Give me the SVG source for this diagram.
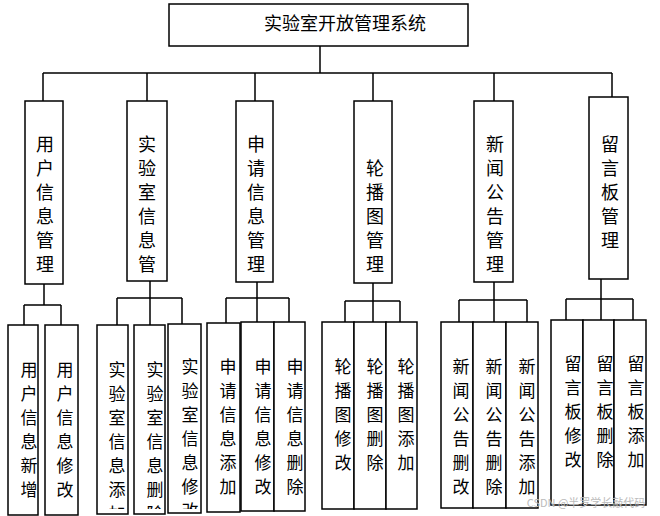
<svg xmlns="http://www.w3.org/2000/svg" width="660" height="516" viewBox="0 0 660 516">
<style>
rect{fill:#fff;stroke:#000;stroke-width:1.5}
line,path{stroke:#000;stroke-width:1.5;fill:none}
text{font-family:"Noto Sans CJK SC",sans-serif;font-size:17px;fill:#000;text-anchor:middle;dominant-baseline:central}
.l2{font-size:18px}
.wm{font-size:11px;fill:#bbb}
</style>
<defs>
<clipPath id="c2"><rect x="90" y="325" width="120" height="184"/></clipPath>
</defs>
<rect width="660" height="516" style="stroke:none"/>
<g id="connectors">
<path d="M320 46V73M43 73H612M43 73V101M147 73V101M255 73V101M373 73V101M494 73V101M612 73V97"/>
<path d="M44 284V305M24 305H61M24 305V325M61 305V325"/>
<path d="M150 281V298M117 298H182M117 298V325M150 298V325M182 298V324"/>
<path d="M257 282V298M226 298H289M226 298V323M257 298V322M289 298V322"/>
<path d="M373 283V301M345 301H400M345 301V322M373 301V322M400 301V322"/>
<path d="M494 282V300M459 300H527M459 300V322M494 300V322M527 300V322"/>
<path d="M601 279V299M566 299H633M566 299V320M601 299V320M633 299V320"/>
</g>
<g id="root"><rect x="169" y="4" width="299" height="42"/><text x="345" y="22" style="font-size:18px">实验室开放管理系统</text></g>
<g id="n1"><rect x="25" y="101" width="38" height="183"/><text class="l2" x="45" y="143"><tspan x="45">用</tspan><tspan x="45" dy="24">户</tspan><tspan x="45" dy="24">信</tspan><tspan x="45" dy="24">息</tspan><tspan x="45" dy="24">管</tspan><tspan x="45" dy="24">理</tspan></text></g>
<g id="n2"><rect x="127" y="101" width="40" height="180"/><text class="l2" x="147" y="143"><tspan x="147">实</tspan><tspan x="147" dy="24">验</tspan><tspan x="147" dy="24">室</tspan><tspan x="147" dy="24">信</tspan><tspan x="147" dy="24">息</tspan><tspan x="147" dy="24">管</tspan></text></g>
<g id="n3"><rect x="236" y="101" width="37" height="181"/><text class="l2" x="256" y="143"><tspan x="256">申</tspan><tspan x="256" dy="24">请</tspan><tspan x="256" dy="24">信</tspan><tspan x="256" dy="24">息</tspan><tspan x="256" dy="24">管</tspan><tspan x="256" dy="24">理</tspan></text></g>
<g id="n4"><rect x="354" y="101" width="38" height="182"/><text class="l2" x="375" y="167"><tspan x="375">轮</tspan><tspan x="375" dy="24">播</tspan><tspan x="375" dy="24">图</tspan><tspan x="375" dy="24">管</tspan><tspan x="375" dy="24">理</tspan></text></g>
<g id="n5"><rect x="474" y="101" width="39" height="181"/><text class="l2" x="495" y="143"><tspan x="495">新</tspan><tspan x="495" dy="24">闻</tspan><tspan x="495" dy="24">公</tspan><tspan x="495" dy="24">告</tspan><tspan x="495" dy="24">管</tspan><tspan x="495" dy="24">理</tspan></text></g>
<g id="n6"><rect x="589" y="97" width="39" height="182"/><text class="l2" x="610" y="143"><tspan x="610">留</tspan><tspan x="610" dy="24">言</tspan><tspan x="610" dy="24">板</tspan><tspan x="610" dy="24">管</tspan><tspan x="610" dy="24">理</tspan></text></g>

<g id="n1a"><rect x="8" y="325" width="30" height="190"/><text x="29" y="368"><tspan x="29">用</tspan><tspan x="29" dy="24">户</tspan><tspan x="29" dy="24">信</tspan><tspan x="29" dy="24">息</tspan><tspan x="29" dy="24">新</tspan><tspan x="29" dy="24">增</tspan></text></g>
<g id="n1b"><rect x="45" y="325" width="33" height="190"/><text x="65" y="368"><tspan x="65">用</tspan><tspan x="65" dy="24">户</tspan><tspan x="65" dy="24">信</tspan><tspan x="65" dy="24">息</tspan><tspan x="65" dy="24">修</tspan><tspan x="65" dy="24">改</tspan></text></g>

<g id="n2a"><rect x="97" y="325" width="31" height="189"/><text clip-path="url(#c2)" x="117" y="368"><tspan x="117">实</tspan><tspan x="117" dy="24">验</tspan><tspan x="117" dy="24">室</tspan><tspan x="117" dy="24">信</tspan><tspan x="117" dy="24">息</tspan><tspan x="117" dy="24">添</tspan><tspan x="117" dy="24">加</tspan></text></g>
<g id="n2b"><rect x="134" y="325" width="31" height="189"/><text clip-path="url(#c2)" x="155" y="368"><tspan x="155">实</tspan><tspan x="155" dy="24">验</tspan><tspan x="155" dy="24">室</tspan><tspan x="155" dy="24">信</tspan><tspan x="155" dy="24">息</tspan><tspan x="155" dy="24">删</tspan><tspan x="155" dy="24">除</tspan></text></g>
<g id="n2c"><rect x="168" y="324" width="33" height="189"/><text clip-path="url(#c2)" x="190" y="365"><tspan x="190">实</tspan><tspan x="190" dy="24">验</tspan><tspan x="190" dy="24">室</tspan><tspan x="190" dy="24">信</tspan><tspan x="190" dy="24">息</tspan><tspan x="190" dy="24">修</tspan><tspan x="190" dy="24">改</tspan></text></g>

<g id="n3a"><rect x="207" y="323" width="33" height="189"/><text x="228" y="365"><tspan x="228">申</tspan><tspan x="228" dy="24">请</tspan><tspan x="228" dy="24">信</tspan><tspan x="228" dy="24">息</tspan><tspan x="228" dy="24">添</tspan><tspan x="228" dy="24">加</tspan></text></g>
<g id="n3b"><rect x="241" y="322" width="33" height="189"/><text x="263" y="365"><tspan x="263">申</tspan><tspan x="263" dy="24">请</tspan><tspan x="263" dy="24">信</tspan><tspan x="263" dy="24">息</tspan><tspan x="263" dy="24">修</tspan><tspan x="263" dy="24">改</tspan></text></g>
<g id="n3c"><rect x="274" y="322" width="31" height="189"/><text x="295" y="365"><tspan x="295">申</tspan><tspan x="295" dy="24">请</tspan><tspan x="295" dy="24">信</tspan><tspan x="295" dy="24">息</tspan><tspan x="295" dy="24">删</tspan><tspan x="295" dy="24">除</tspan></text></g>

<g id="n4a"><rect x="322" y="322" width="32" height="187"/><text x="343" y="365"><tspan x="343">轮</tspan><tspan x="343" dy="24">播</tspan><tspan x="343" dy="24">图</tspan><tspan x="343" dy="24">修</tspan><tspan x="343" dy="24">改</tspan></text></g>
<g id="n4b"><rect x="354" y="322" width="32" height="187"/><text x="375" y="365"><tspan x="375">轮</tspan><tspan x="375" dy="24">播</tspan><tspan x="375" dy="24">图</tspan><tspan x="375" dy="24">删</tspan><tspan x="375" dy="24">除</tspan></text></g>
<g id="n4c"><rect x="386" y="322" width="31" height="187"/><text x="406" y="365"><tspan x="406">轮</tspan><tspan x="406" dy="24">播</tspan><tspan x="406" dy="24">图</tspan><tspan x="406" dy="24">添</tspan><tspan x="406" dy="24">加</tspan></text></g>

<g id="n5a"><rect x="441" y="322" width="32" height="186"/><text x="461" y="365"><tspan x="461">新</tspan><tspan x="461" dy="24">闻</tspan><tspan x="461" dy="24">公</tspan><tspan x="461" dy="24">告</tspan><tspan x="461" dy="24">删</tspan><tspan x="461" dy="24">改</tspan></text></g>
<g id="n5b"><rect x="473" y="322" width="33" height="186"/><text x="494" y="365"><tspan x="494">新</tspan><tspan x="494" dy="24">闻</tspan><tspan x="494" dy="24">公</tspan><tspan x="494" dy="24">告</tspan><tspan x="494" dy="24">删</tspan><tspan x="494" dy="24">除</tspan></text></g>
<g id="n5c"><rect x="506" y="322" width="32" height="186"/><text x="527" y="365"><tspan x="527">新</tspan><tspan x="527" dy="24">闻</tspan><tspan x="527" dy="24">公</tspan><tspan x="527" dy="24">告</tspan><tspan x="527" dy="24">添</tspan><tspan x="527" dy="24">加</tspan></text></g>

<g id="n6a"><rect x="551" y="320" width="32" height="185"/><text x="573" y="362"><tspan x="573">留</tspan><tspan x="573" dy="24">言</tspan><tspan x="573" dy="24">板</tspan><tspan x="573" dy="24">修</tspan><tspan x="573" dy="24">改</tspan></text></g>
<g id="n6b"><rect x="583" y="320" width="31" height="185"/><text x="605" y="362"><tspan x="605">留</tspan><tspan x="605" dy="24">言</tspan><tspan x="605" dy="24">板</tspan><tspan x="605" dy="24">删</tspan><tspan x="605" dy="24">除</tspan></text></g>
<g id="n6c"><rect x="614" y="320" width="32" height="185"/><text x="636" y="362"><tspan x="636">留</tspan><tspan x="636" dy="24">言</tspan><tspan x="636" dy="24">板</tspan><tspan x="636" dy="24">添</tspan><tspan x="636" dy="24">加</tspan></text></g>

<text class="wm" x="586" y="502">CSDN @半罗学长敲代码</text>
</svg>
